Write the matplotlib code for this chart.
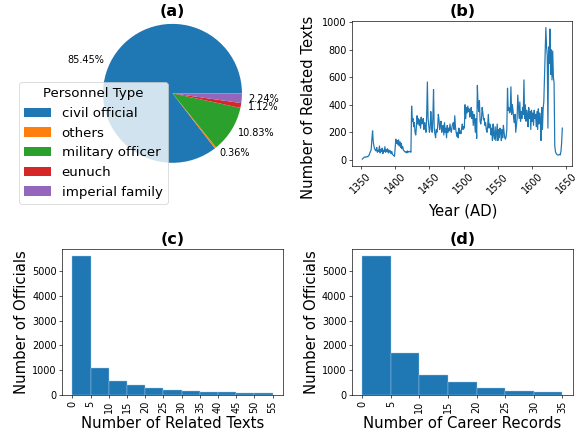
import matplotlib
matplotlib.use("Agg")
import matplotlib.pyplot as plt
import numpy as np

# ---- data ----
pie_labels = ["civil official", "others", "military officer", "eunuch", "imperial family"]
pie_values = [85.45, 0.36, 10.83, 1.12, 2.24]

year_start = 1352
texts_per_year = [
    5, 10, 15, 20, 18, 22, 20, 25, 22, 28,
    35, 50, 60, 75, 150, 210, 130, 100, 80, 70,
    65, 90, 55, 70, 60, 100, 50, 75, 60, 85,
    45, 70, 60, 95, 55, 75, 60, 80, 50, 70,
    55, 65, 45, 60, 40, 35, 30, 25, 90, 150,
    120, 140, 110, 145, 100, 130, 90, 120, 80, 95,
    70, 65, 60, 55, 60, 50, 65, 55, 60, 58,
    62, 55, 390, 280, 300, 240, 270, 200, 180, 240,
    320, 260, 300, 250, 290, 230, 310, 260, 290, 300,
    220, 270, 240, 200, 320, 565, 300, 250, 200, 230,
    350, 260, 200, 300, 510, 230, 190, 160, 220, 200,
    240, 330, 290, 220, 260, 280, 200, 240, 250, 180,
    270, 200, 230, 160, 250, 200, 230, 210, 260, 220,
    200, 240, 260, 270, 220, 320, 240, 200, 170, 200,
    160, 230, 190, 210, 190, 230, 260, 220, 240, 230,
    400, 300, 380, 340, 390, 350, 370, 310, 340, 380,
    300, 350, 250, 330, 280, 200, 300, 155, 540, 400,
    350, 430, 280, 260, 300, 380, 340, 290, 300, 250,
    270, 220, 200, 240, 330, 230, 260, 250, 180, 230,
    140, 260, 180, 150, 240, 140, 200, 260, 140, 220,
    160, 230, 200, 140, 220, 160, 250, 200, 160, 150,
    170, 220, 520, 360, 380, 340, 350, 530, 330, 400,
    360, 300, 270, 330, 200, 250, 300, 470, 380, 300,
    420, 280, 350, 300, 380, 330, 580, 300, 400, 280,
    360, 330, 240, 380, 300, 350, 220, 360, 280, 340,
    250, 360, 300, 330, 240, 350, 220, 370, 260, 340,
    300, 140, 380, 220, 370, 420, 600, 800, 960, 820,
    760, 230, 820, 700, 950, 620, 800, 580, 790, 600,
    560, 100, 60, 45, 40, 35, 35, 35, 40, 35,
    60, 120, 230,
]
years = np.arange(year_start, year_start + len(texts_per_year))

texts_bins = [0, 5, 10, 15, 20, 25, 30, 35, 40, 45, 50, 55]
texts_counts = [5605, 1089, 578, 417, 296, 202, 175, 134, 108, 81, 67]

career_bins = [0, 5, 10, 15, 20, 25, 30, 35]
career_counts = [5590, 1694, 806, 524, 296, 175, 121]

# ---- figure ----
W, H = 582, 439
dpi = 58.2
fig = plt.figure(figsize=(W / dpi, H / dpi), dpi=dpi)

def axpos(l, t, r, b):
    return [l / W, 1 - b / H, (r - l) / W, (b - t) / H]

ax_a = fig.add_axes(axpos(62.3, 21, 282.7, 165.7))
ax_b = fig.add_axes(axpos(352.3, 21, 572.3, 165.7))
ax_c = fig.add_axes(axpos(62.3, 249.3, 282.7, 395))
ax_d = fig.add_axes(axpos(352.2, 249.3, 572.5, 395))

tick_fs = 12
label_fs = 18.5
title_fs = 20

# (a) pie
colors = ["#1f77b4", "#ff7f0e", "#2ca02c", "#d62728", "#9467bd"]
pct_labels = [f"{v:.2f}%" for v in pie_values]
wedges, _ = ax_a.pie(pie_values, colors=colors, labels=pct_labels,
                     radius=1.2, labeldistance=1.1,
                     textprops={"fontsize": 12})
ax_a.set_title("(a)", fontsize=title_fs, fontweight="bold")
leg = ax_a.legend(wedges, pie_labels, title="Personnel Type", fontsize=16.5,
                  title_fontsize=16.5, loc="lower left",
                  bbox_to_anchor=(19 / W, 1 - 204 / H),
                  bbox_transform=fig.transFigure, borderaxespad=0)

# (b) line
ax_b.plot(years, texts_per_year, color="#1f77b4", linewidth=1.5)
ax_b.set_title("(b)", fontsize=title_fs, fontweight="bold")
ax_b.set_xlabel("Year (AD)", fontsize=label_fs, labelpad=9)
ax_b.set_ylabel("Number of Related Texts", fontsize=label_fs)
ax_b.yaxis.set_label_coords(-0.165, 0.40)
ax_b.set_xticks([1350, 1400, 1450, 1500, 1550, 1600, 1650])
ax_b.set_yticks([0, 200, 400, 600, 800, 1000])
ax_b.tick_params(axis="x", labelrotation=45, labelsize=tick_fs)
ax_b.tick_params(axis="y", labelsize=tick_fs)

# (c) histogram of related texts
ax_c.bar(texts_bins[:-1], texts_counts, width=np.diff(texts_bins), align="edge",
         color="#1f77b4", edgecolor="#a6c8e6", linewidth=0.5)
ax_c.set_title("(c)", fontsize=title_fs, fontweight="bold")
ax_c.set_xlabel("Number of Related Texts", fontsize=label_fs)
ax_c.set_ylabel("Number of Officials", fontsize=label_fs)
ax_c.set_xticks(texts_bins)
ax_c.set_yticks([0, 1000, 2000, 3000, 4000, 5000])
ax_c.tick_params(axis="x", labelrotation=90, labelsize=tick_fs)
ax_c.tick_params(axis="y", labelsize=tick_fs)

# (d) histogram of career records
ax_d.bar(career_bins[:-1], career_counts, width=np.diff(career_bins), align="edge",
         color="#1f77b4", edgecolor="#a6c8e6", linewidth=0.5)
ax_d.set_title("(d)", fontsize=title_fs, fontweight="bold")
ax_d.set_xlabel("Number of Career Records", fontsize=label_fs)
ax_d.set_ylabel("Number of Officials", fontsize=label_fs)
ax_d.set_xticks(career_bins)
ax_d.set_yticks([0, 1000, 2000, 3000, 4000, 5000])
ax_d.tick_params(axis="x", labelrotation=90, labelsize=tick_fs)
ax_d.tick_params(axis="y", labelsize=tick_fs)

fig.savefig("out.png", dpi=dpi)
